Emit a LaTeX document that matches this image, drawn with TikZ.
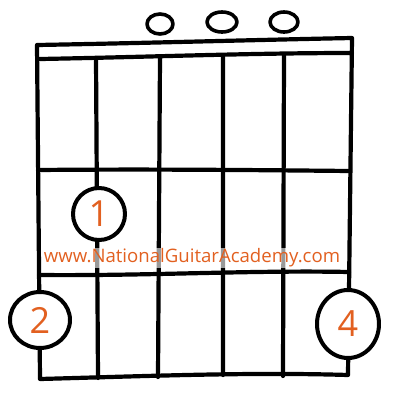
\documentclass[tikz,border=0pt]{standalone}
\usepackage{fontspec}
\usetikzlibrary{shapes.geometric}
\newfontfamily\handfont{Open Sans}
\definecolor{fingerorange}{RGB}{226,96,32}
\begin{document}
\begin{tikzpicture}[x=1pt,y=-1pt,line join=round,line cap=round,
	fret/.style={line width=4.2pt},
	open/.style={line width=3.6pt},
	finger/.style={line width=4pt,fill=white},
	digit/.style={text=fingerorange,font=\handfont\fontsize{36}{36}\selectfont}]
		\useasboundingbox (0,0) rectangle (400,408);
		\path
		(37,45) coordinate (N1)
		(352,38) coordinate (N2)
		(40,59) coordinate (M1)
		(352,53) coordinate (M2)
		(40,379) coordinate (B1)
		(348,375) coordinate (B2)
		(38,170) coordinate (F1)
		(350,171) coordinate (F1r)
		(39,275) coordinate (F2)
		(349,272) coordinate (F2r)
		(96,58) coordinate (S2)
		(98,378) coordinate (S2b)
		(160,57) coordinate (S3)
		(158,377) coordinate (S3b)
		(223,56) coordinate (S4)
		(223,375) coordinate (S4b)
		(284,55) coordinate (S5)
		(283,376) coordinate (S5b)
		;
		% frame and nut
		\draw[fret]
		(N1)..controls (150,43) and (250,40)..(N2)
		(M1)..controls (150,57) and (250,53)..(M2)
		(N1)--(B1)
		(N2)--(B2)
		(B1)..controls (150,376) and (250,372)..(B2)
		;
		% frets
		\draw[fret]
		(F1)..controls (150,169) and (250,170)..(F1r)
		(F2)..controls (150,276) and (250,270)..(F2r)
		;
		% strings
		\draw[fret]
		(S2)--(S2b)
		(S3)--(S3b)
		(S4)--(S4b)
		(S5)--(S5b)
		;
		% open strings
		\draw[open]
		(160,24) ellipse [x radius=13,y radius=10]
		(222,22) ellipse [x radius=15,y radius=10]
		(284,22) ellipse [x radius=14,y radius=10]
		;
		% fingers
		\node[finger,draw,circle,minimum size=52pt,inner sep=0pt] (one) at (99,214) {};
		\node[finger,draw,ellipse,minimum width=60pt,minimum height=56pt,inner sep=0pt] (two) at (40,320) {};
		\node[finger,draw,ellipse,minimum width=62pt,minimum height=68pt,inner sep=0pt] (four) at (348,324) {};
		\node[digit] at (one) {1};
		\node[digit] at (two) {2};
		\node[digit] at (four) {4};
		\node[fill=white,fill opacity=.6,text opacity=1,text=fingerorange,
		font=\handfont\fontsize{18.6}{18.6}\selectfont,inner sep=1pt] (web) at (192,258) {www.NationalGuitarAcademy.com};
		\end{tikzpicture}
\end{document}
